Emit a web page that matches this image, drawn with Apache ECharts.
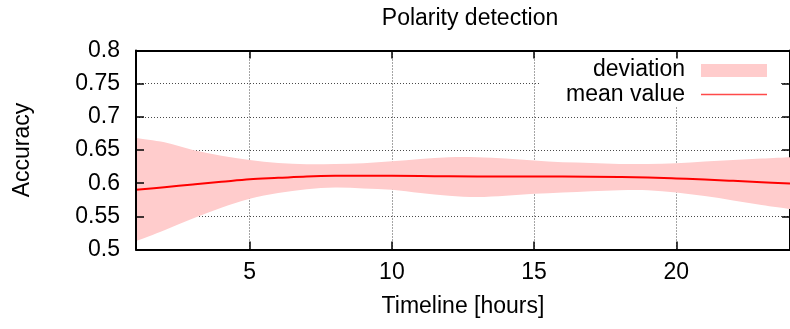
<!DOCTYPE html>
<html>
<head>
<meta charset="utf-8">
<title>Polarity detection</title>
<script src="https://cdn.jsdelivr.net/npm/echarts@6/dist/echarts.min.js"></script>
<style>
  html, body { margin: 0; padding: 0; background: #ffffff; }
  #chart { width: 790px; height: 329px; }
</style>
</head>
<body>
<div id="chart"></div>
<script>
// Hourly accuracy of the polarity detector: mean and the deviation band around it.
const hours = [1, 2, 3, 4, 5, 6, 7, 8, 9, 10, 11, 12, 13, 14, 15, 16, 17, 18, 19, 20, 21, 22, 23, 24];
const meanValue = [0.590, 0.594, 0.598, 0.602, 0.606, 0.608, 0.610, 0.611, 0.611, 0.611, 0.6108, 0.6104,
                   0.6101, 0.610, 0.610, 0.610, 0.6098, 0.6093, 0.6085, 0.607, 0.6055, 0.6035, 0.6015, 0.5995];
const deviationHigh = [0.668, 0.6615, 0.650, 0.6415, 0.635, 0.6305, 0.6285, 0.629, 0.630, 0.633, 0.6366, 0.639,
                       0.639, 0.637, 0.634, 0.6315, 0.6305, 0.629, 0.629, 0.630, 0.6325, 0.635, 0.637, 0.639];
const deviationLow = [0.5125, 0.529, 0.5466, 0.563, 0.5766, 0.585, 0.591, 0.5935, 0.592, 0.590, 0.585, 0.581,
                      0.579, 0.581, 0.584, 0.586, 0.588, 0.5895, 0.5895, 0.586, 0.5805, 0.574, 0.567, 0.561];
const xTickValues = [5, 10, 15, 20];
const yTickLabels = ['0.5', '0.55', '0.6', '0.65', '0.7', '0.75', '0.8'];

const FONT = 'Liberation Sans, Arial, Helvetica, sans-serif';
const FS = 23;
const BAND = '#ffcccc';
const LINE = '#ff0000';
const GRID_LINE = { show: true, lineStyle: { color: '#4a4a4a', width: 1, type: [1, 2] } };

const yMin = Number(yTickLabels[0]);
const yMax = Number(yTickLabels[yTickLabels.length - 1]);

// Catmull-Rom spline through pixel points, emitted as SVG path commands (no initial move).
function splineThrough(pts) {
  let d = '';
  for (let i = 0; i < pts.length - 1; i++) {
    const p0 = pts[Math.max(i - 1, 0)];
    const p1 = pts[i];
    const p2 = pts[i + 1];
    const p3 = pts[Math.min(i + 2, pts.length - 1)];
    const c1 = [p1[0] + (p2[0] - p0[0]) / 6, p1[1] + (p2[1] - p0[1]) / 6];
    const c2 = [p2[0] - (p3[0] - p1[0]) / 6, p2[1] - (p3[1] - p1[1]) / 6];
    d += ' C' + c1[0].toFixed(2) + ',' + c1[1].toFixed(2) + ' ' + c2[0].toFixed(2) + ',' + c2[1].toFixed(2) +
         ' ' + p2[0].toFixed(2) + ',' + p2[1].toFixed(2);
  }
  return d;
}

function renderBand(params, api) {
  if (params.dataIndex !== 0) return null;
  const upper = hours.map((h, i) => api.coord([h, deviationHigh[i]]));
  const lower = hours.map((h, i) => api.coord([h, deviationLow[i]])).reverse();
  const d = 'M' + upper[0][0].toFixed(2) + ',' + upper[0][1].toFixed(2) + splineThrough(upper) +
            ' L' + lower[0][0].toFixed(2) + ',' + lower[0][1].toFixed(2) + splineThrough(lower) + ' Z';
  return {
    type: 'path',
    shape: { pathData: d },
    style: { fill: BAND, stroke: null }
  };
}

function renderMean(params, api) {
  if (params.dataIndex !== 0) return null;
  const pts = hours.map((h, i) => api.coord([h, meanValue[i]]));
  const d = 'M' + pts[0][0].toFixed(2) + ',' + pts[0][1].toFixed(2) + splineThrough(pts);
  return {
    type: 'path',
    shape: { pathData: d },
    style: { fill: null, stroke: LINE, lineWidth: 2 }
  };
}

const chart = echarts.init(document.getElementById('chart'), null, { renderer: 'canvas' });

chart.setOption({
  animation: false,
  backgroundColor: '#ffffff',
  title: {
    text: 'Polarity detection',
    left: 465,
    top: 2,
    textAlign: 'center',
    textStyle: { fontFamily: FONT, fontSize: FS, fontWeight: 'normal', color: '#000' }
  },
  grid: { left: 136, right: -6, top: 50.5, bottom: 79.5, containLabel: false },
  xAxis: [
    {
      type: 'value', position: 'bottom', min: hours[0], max: hours[hours.length - 1], splitNumber: 5, z: 3,
      name: 'Timeline [hours]', nameLocation: 'middle', nameGap: 46,
      nameTextStyle: { fontFamily: FONT, fontSize: FS, color: '#000' },
      axisLine: { show: true, lineStyle: { color: '#000', width: 2 } },
      axisTick: { show: true, inside: true, length: 8, customValues: xTickValues, lineStyle: { color: '#000', width: 1.5 } },
      axisLabel: { show: true, customValues: xTickValues, margin: 12, fontFamily: FONT, fontSize: FS, color: '#000' },
      splitLine: { show: false }
    },
    {
      type: 'value', position: 'top', min: hours[0], max: hours[hours.length - 1], splitNumber: 5, z: 0,
      axisLine: { show: true, lineStyle: { color: '#000', width: 2 } },
      axisTick: { show: true, inside: true, length: 8, customValues: xTickValues, lineStyle: { color: '#000', width: 1.5 } },
      axisLabel: { show: false },
      splitLine: GRID_LINE
    }
  ],
  yAxis: [
    {
      type: 'value', position: 'left', min: yMin, max: yMax, interval: 0.05, z: 3,
      name: 'Accuracy', nameLocation: 'middle', nameGap: 102, nameRotate: 90,
      nameTextStyle: { fontFamily: FONT, fontSize: FS, color: '#000' },
      axisLine: { show: true, lineStyle: { color: '#000', width: 2 } },
      axisTick: { show: true, inside: true, length: 8, lineStyle: { color: '#000', width: 1.5 } },
      axisLabel: {
        show: true, margin: 16, fontFamily: FONT, fontSize: FS, color: '#000',
        formatter: (v) => yTickLabels[Math.round((v - yMin) / 0.05)]
      },
      splitLine: { show: false }
    },
    {
      type: 'value', position: 'right', min: yMin, max: yMax, interval: 0.05, z: 0,
      axisLine: { show: true, lineStyle: { color: '#000', width: 2 } },
      axisTick: { show: true, inside: true, length: 8, lineStyle: { color: '#000', width: 1.5 } },
      axisLabel: { show: false },
      splitLine: GRID_LINE
    }
  ],
  series: [
    {
      name: 'deviation', type: 'custom', silent: true, clip: true,
      renderItem: renderBand,
      data: hours.map((h, i) => [h, deviationLow[i], deviationHigh[i]]),
      encode: { x: 0, y: [1, 2] }
    },
    {
      name: 'mean value', type: 'custom', silent: true, clip: true,
      renderItem: renderMean,
      data: hours.map((h, i) => [h, meanValue[i]]),
      encode: { x: 0, y: 1 }
    }
  ],
  graphic: [
    { type: 'rect', z: 100, shape: { x: 539, y: 59, width: 242, height: 47 }, style: { fill: '#ffffff' } },
    { type: 'text', z: 101, x: 685, y: 70,
      style: { text: 'deviation', align: 'right', verticalAlign: 'middle', font: FS + 'px ' + FONT, fill: '#000' } },
    { type: 'rect', z: 101, shape: { x: 701, y: 64, width: 66, height: 13 }, style: { fill: BAND } },
    { type: 'text', z: 101, x: 685, y: 95,
      style: { text: 'mean value', align: 'right', verticalAlign: 'middle', font: FS + 'px ' + FONT, fill: '#000' } },
    { type: 'line', z: 101, shape: { x1: 701, y1: 94.5, x2: 767, y2: 94.5 }, style: { stroke: '#ff4a4a', lineWidth: 1.5 } }
  ]
});
</script>
</body>
</html>
